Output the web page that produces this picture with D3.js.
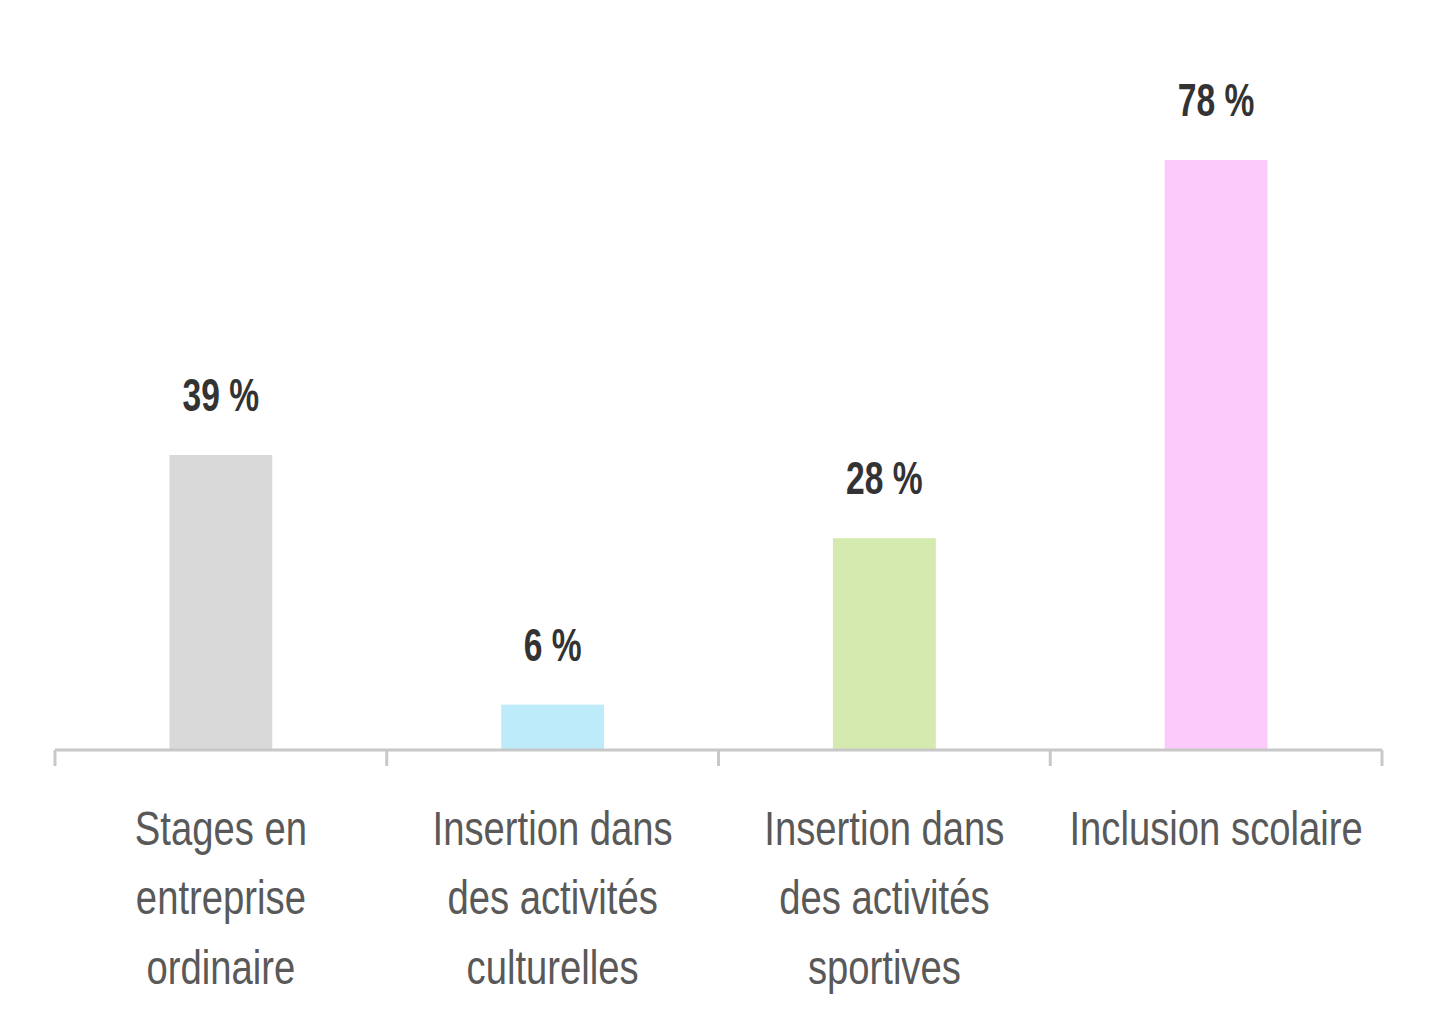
<!DOCTYPE html>
<html><head><meta charset="utf-8">
<script src="https://cdn.jsdelivr.net/npm/d3@7"></script>
<style>body{margin:0;background:#fff}</style>
</head><body>
<svg id="chart" width="1432" height="1029"></svg>
<script>
// data
const categories = [
  ["Stages en", "entreprise", "ordinaire"],
  ["Insertion dans", "des activités", "culturelles"],
  ["Insertion dans", "des activités", "sportives"],
  ["Inclusion scolaire"]
];
const values = [39, 6, 28, 78];
const colors = ["#d9d9d9", "#bdebfa", "#d4eaae", "#fbcafb"];

const font = "'Liberation Sans Narrow', 'Arial Narrow', 'Liberation Sans', sans-serif";
const svg = d3.select('#chart');
const x = d3.scaleBand().domain(d3.range(values.length)).range([55, 1382]).paddingInner(0.69).paddingOuter(0.345);
const y = d3.scaleLinear().domain([0, 78]).range([750, 160]);
const cx = i => x(i) + x.bandwidth() / 2;

svg.selectAll('rect.bar').data(values).enter().append('rect')
  .attr('x', (d, i) => x(i)).attr('width', x.bandwidth())
  .attr('y', d => y(d)).attr('height', d => y(0) - y(d))
  .attr('fill', (d, i) => colors[i]);

// condensed look: squeeze horizontally around each label's centre
svg.selectAll('text.val').data(values).enter().append('text')
  .attr('transform', (d, i) => `translate(${cx(i)},${y(d) - 44}) scale(0.8,1.1)`)
  .attr('text-anchor', 'middle').style('font-family', font)
  .style('font-size', '42px').style('font-weight', 'bold').attr('fill', '#333')
  .text(d => d + ' %');

// axis
const edges = d3.range(values.length + 1).map(i => 55 + i * (1382 - 55) / values.length);
svg.append('line').attr('x1', 55).attr('x2', 1382).attr('y1', 750).attr('y2', 750)
  .attr('stroke', '#c8c8c8').attr('stroke-width', 3);
svg.selectAll('line.tick').data(edges).enter().append('line')
  .attr('x1', d => d).attr('x2', d => d).attr('y1', 750).attr('y2', 766)
  .attr('stroke', '#c8c8c8').attr('stroke-width', 3);

const lab = svg.selectAll('text.cat').data(categories).enter().append('text')
  .attr('transform', (d, i) => `translate(${cx(i)},845) scale(0.85,1.05)`)
  .attr('text-anchor', 'middle').style('font-family', font)
  .style('font-size', '45px').attr('fill', '#595959');
lab.selectAll('tspan').data(d => d).enter().append('tspan')
  .attr('x', 0).attr('dy', (d, i) => i === 0 ? 0 : 66).text(d => d);
</script>
</body></html>
